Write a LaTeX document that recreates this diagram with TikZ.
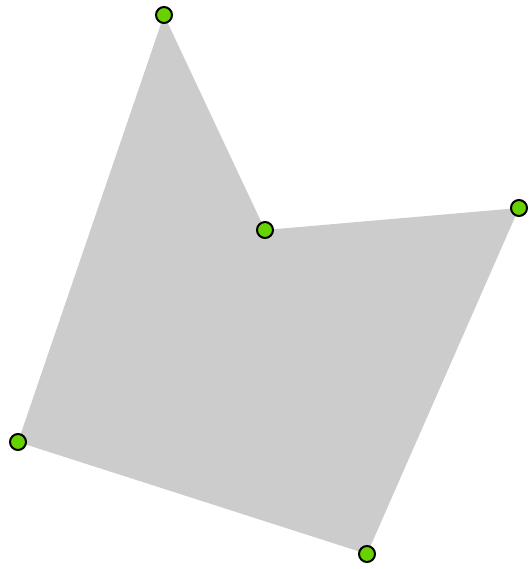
\documentclass[tikz,border=0pt]{standalone}
\usepackage{tikz}
\definecolor{shapegray}{RGB}{204,204,204}
\definecolor{dotgreen}{RGB}{102,210,0}
\begin{document}
\begin{tikzpicture}[
      x=1pt, y=-1pt,
      region/.style={fill=shapegray, draw=none},
      vertex/.style={circle, draw=black, line width=2pt, fill=dotgreen,
                     minimum size=16pt, inner sep=0pt}
  ]
      \useasboundingbox (0,0) rectangle (530,569);
      % Eckpunkte
      \coordinate (top)   at (164,15);
      \coordinate (notch) at (265,230);
      \coordinate (right) at (519,208);
      \coordinate (low)   at (367,554);
      \coordinate (left)  at (18,442);

      \path[region] (top) -- (notch) -- (right) -- (low) -- (left) -- cycle;

      % Punkte
      \foreach \p in {top,notch,right,low,left}
          \node[vertex] (dot-\p) at (\p) {};
  \end{tikzpicture}
\end{document}
